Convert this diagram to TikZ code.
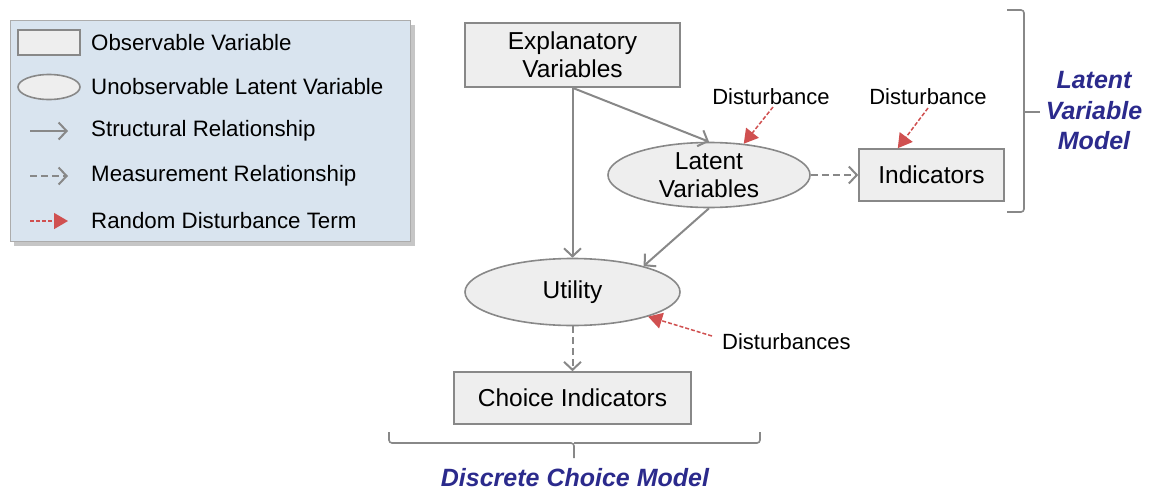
\documentclass[tikz,border=0pt]{standalone}
\usepackage{fontspec}
\setmainfont{Liberation Sans}
\usetikzlibrary{arrows.meta,shapes.geometric,decorations.pathreplacing,calc}
\definecolor{legfill}{HTML}{D9E4EF}
\definecolor{nodefill}{HTML}{EEEEEE}
\definecolor{linegray}{HTML}{888888}
\definecolor{distred}{HTML}{D05050}
\definecolor{modelblue}{HTML}{2B2A8C}
\tikzset{
  obsbox/.style={draw=linegray, line width=1.6pt, fill=nodefill, inner sep=0pt, font=\fontsize{24.5}{28}\selectfont, align=center},
  latent/.style={ellipse, draw=linegray, line width=1.6pt, fill=nodefill, inner sep=0pt, font=\fontsize{24.5}{28}\selectfont, align=center},
  structarrow/.style={draw=linegray, line width=2pt, -{Straight Barb[length=8pt,width=17pt,line width=2pt]}},
  measarrow/.style={structarrow, dash pattern=on 7pt off 4pt},
  distarrow/.style={draw=distred, line width=1.5pt, dash pattern=on 4pt off 2pt, -{Triangle[length=14pt,width=16pt]}},
  distlabel/.style={font=\fontsize{22}{24}\selectfont, inner sep=0pt},
  legtext/.style={font=\fontsize{22.3}{24}\selectfont, anchor=west, inner sep=0pt},
  modellabel/.style={font=\fontsize{25}{30.5}\selectfont\bfseries\itshape, text=modelblue, align=center, inner sep=0pt},
  bracepath/.style={draw=linegray, line width=1.6pt, rounded corners=3pt}
}
\begin{document}
\begin{tikzpicture}[x=1pt,y=-1pt]
\useasboundingbox (0,0) rectangle (1151,490);
% legend
\fill[gray!45] (14,25) rectangle (415,246);
\draw[draw=linegray!70, line width=1pt, fill=legfill] (10,20) rectangle (410,241);
\node[obsbox, minimum width=62pt, minimum height=25pt] (lrect) at (49,42.5) {};
\node[latent, minimum width=62pt, minimum height=25pt] (lell) at (49,87) {};
\coordinate (ls1) at (30,131); \coordinate (le1) at (68,131);
\coordinate (ls2) at (30,176); \coordinate (le2) at (68,176);
\coordinate (ls3) at (30,221); \coordinate (le3) at (68,221);
\draw[structarrow] (ls1) -- (le1);
\draw[measarrow] (ls2) -- (le2);
\draw[distarrow] (ls3) -- (le3);
\node[legtext] (t1) at (91,43) {Observable Variable};
\node[legtext] (t2) at (91,87) {Unobservable Latent Variable};
\node[legtext] (t3) at (91,131) {Structural Relationship};
\node[legtext] (t4) at (91,176) {Measurement Relationship};
\node[legtext] (t5) at (91,221) {Random Disturbance Term};
% main nodes
\node[obsbox, minimum width=215pt, minimum height=64pt] (expl) at (572.5,55) {Explanatory\\Variables};
\node[latent, minimum width=202pt, minimum height=65pt] (lat) at (709,175) {Latent\\Variables};
\node[obsbox, minimum width=145pt, minimum height=52pt] (ind) at (931.5,175) {Indicators};
\node[latent, minimum width=215pt, minimum height=67pt] (util) at (572.5,292) {Utility};
\node[obsbox, minimum width=237pt, minimum height=52pt] (choice) at (572.5,398) {Choice Indicators};
% arrows
\draw[structarrow] (expl.south) -- (lat.north);
\draw[structarrow] (expl.south) -- (util.north);
\draw[structarrow] (lat.south) -- (util.20);
\draw[measarrow] (lat.east) -- (ind.west);
\draw[measarrow] (util.south) -- (choice.north);
% disturbances
\node[distlabel] (d1) at (771,97) {Disturbance};
\node[distlabel] (d2) at (928,97) {Disturbance};
\node[distlabel, anchor=west] (d3) at (722,342) {Disturbances};
\coordinate (d1s) at (773,107);
\coordinate (d2s) at (928,108);
\coordinate (d3s) at (712,336);
\draw[distarrow] (d1s) -- (lat.42);
\draw[distarrow] (d2s) -- ($(ind.north west)!0.27!(ind.north east)$);
\draw[distarrow] (d3s) -- (util.-18);
% braces
\coordinate (bl) at (389,432);
\coordinate (br) at (760,432);
\coordinate (bt) at (574,458);
\draw[bracepath] (bl) -- (389,443) -- (574,443) -- (bt);
\draw[bracepath] (br) -- (760,443) -- (574,443);
\coordinate (rt) at (1007,10);
\coordinate (rb) at (1007,212);
\coordinate (rm) at (1040,112);
\draw[bracepath] (rt) -- (1024,10) -- (1024,212) -- (rb);
\draw[bracepath] (1024,112) -- (rm);
\node[modellabel] (dcm) at (575,478) {Discrete Choice Model};
\node[modellabel] (lvm) at (1094,111) {Latent\\Variable\\Model};
\end{tikzpicture}
\end{document}
